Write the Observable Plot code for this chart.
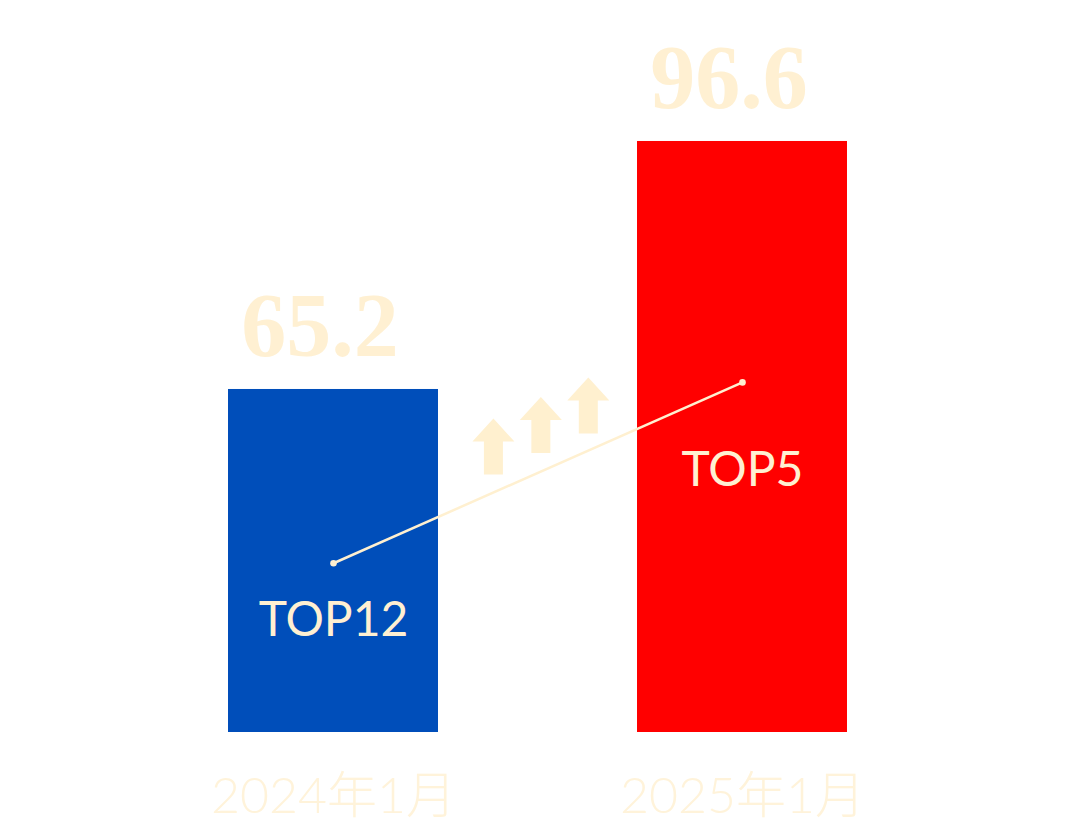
<!DOCTYPE html>
<html>
<head>
<meta charset="utf-8">
<script src="https://cdn.jsdelivr.net/npm/d3@7"></script>
<script src="https://cdn.jsdelivr.net/npm/@observablehq/plot@0.6"></script>
<style>
  html, body { margin: 0; padding: 0; background: #ffffff; }
  #chart { width: 1080px; height: 837px; }
</style>
</head>
<body>
<div id="chart"></div>
<script>
// Data
const categories = ["2024年1月", "2025年1月"];
const values = [65.2, 96.6];
const ranks = ["TOP12", "TOP5"];
const trend = [43.2, 66.1];
const arrowX = [0.391, 0.507, 0.623];
const arrowY = [57.98, 60.7, 63.17];
const baseline = 21.77;
const barColors = ["#004EBA", "#FF0000"];

const data = categories.map((c, i) => ({c, i, v: values[i], r: ranks[i], t: trend[i]}));
const arrows = arrowX.map((x, i) => ({x, y: arrowY[i]}));

const cream = "#FFF0D2";
const halfBar = 0.2567;

const arrowSymbol = {
  draw(ctx) {
    ctx.moveTo(0, -28);
    ctx.lineTo(21, -5);
    ctx.lineTo(9.5, -5);
    ctx.lineTo(9.5, 28);
    ctx.lineTo(-9.5, 28);
    ctx.lineTo(-9.5, -5);
    ctx.lineTo(-21, -5);
    ctx.closePath();
  }
};

const chart = Plot.plot({
  width: 1080,
  height: 837,
  marginTop: 0,
  marginBottom: 105,
  marginLeft: 0,
  marginRight: 0,
  style: {background: "#ffffff", overflow: "visible"},
  x: {type: "linear", domain: [0, 1], range: [333, 742], axis: null},
  y: {domain: [baseline, 114.45], axis: null},
  color: {domain: categories, range: barColors},
  marks: [
    Plot.rectY(data, {x1: d => d.i - halfBar, x2: d => d.i + halfBar, y1: baseline, y2: "v", fill: "c"}),
    Plot.text(data, {x: "i", y: "v", text: d => d.v.toFixed(1), dy: -62, dx: -13.5,
      fontSize: 90, fontWeight: 700, fontFamily: "Liberation Serif, DejaVu Serif, serif", fill: cream}),
    Plot.dot(arrows, {x: "x", y: "y", symbol: arrowSymbol, fill: "#FFF0CF", stroke: "none"}),
    Plot.line(data, {x: "i", y: "t", stroke: "#FFF0D0", strokeWidth: 2.5}),
    Plot.dot(data, {x: "i", y: "t", r: 3.3, fill: "#FFF0D0", stroke: "none"}),
    Plot.text(data.filter(d => d.i === 0), {x: "i", y: "t", text: "r", dy: 57,
      fontSize: 48, fontFamily: "Lato, 'Noto Sans', sans-serif", fill: cream}),
    Plot.text(data.filter(d => d.i === 1), {x: "i", y: "t", text: "r", dy: 88,
      fontSize: 48, fontFamily: "Lato, 'Noto Sans', sans-serif", fill: cream}),
    Plot.text(data, {x: "i", y: () => baseline, text: "c", dy: 64,
      fontSize: 50, fontWeight: 300, fontFamily: "Lato, 'Noto Sans CJK SC', sans-serif", fill: "#FFF3DA"})
  ]
});
document.getElementById("chart").appendChild(chart);
</script>
</body>
</html>
